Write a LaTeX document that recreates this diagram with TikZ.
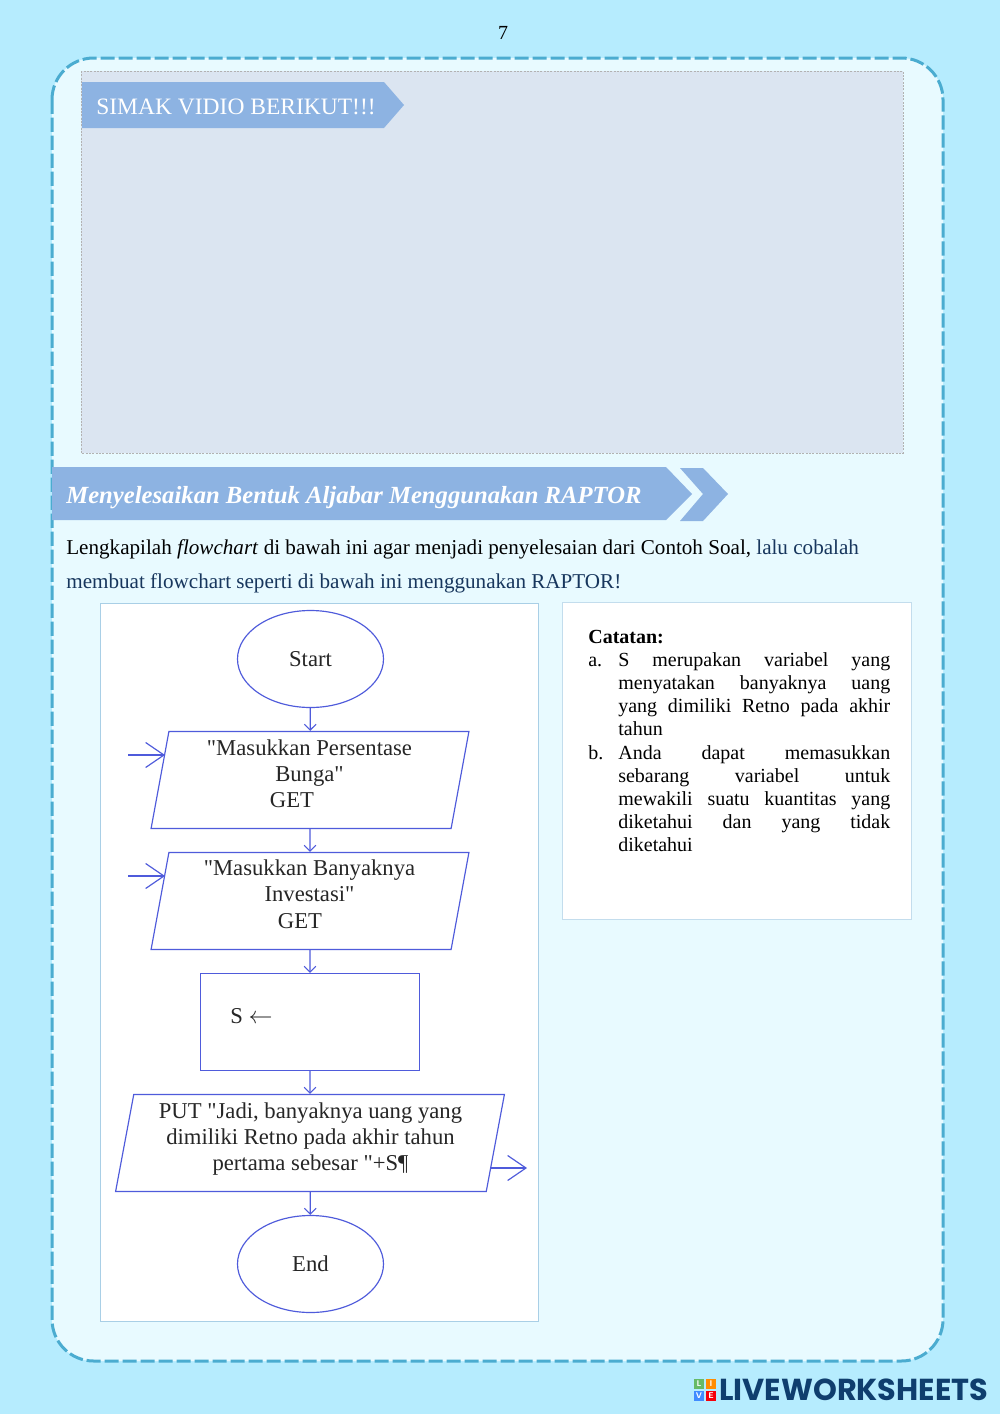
\documentclass[tikz,border=0pt]{standalone}
\usepackage{fontspec}
\setmainfont{Liberation Serif}
\newfontfamily\alurfont{Liberation Serif}
\newfontfamily\logofont{Poppins}
\usetikzlibrary{shapes.geometric, arrows.meta}
\definecolor{latar}{HTML}{B6ECFE}
\definecolor{kartu}{HTML}{E8FAFF}
\definecolor{putus}{HTML}{4BACD0}
\definecolor{vidio}{HTML}{DBE5F1}
\definecolor{pita}{HTML}{8DB3E2}
\definecolor{garis}{HTML}{4F5BDB}
\definecolor{bingkai}{HTML}{A9CFE6}
\definecolor{tinta}{HTML}{17365D}
\definecolor{logobiru}{HTML}{0F3E6E}
\begin{document}
\begin{tikzpicture}[x=0.6pt, y=-0.6pt]
\tikzset{alur/.style={draw=garis, line width=0.7pt, fill=white, inner sep=0pt, text=black!85}}
\tikzset{oval/.style={alur, ellipse, minimum width=87.6pt, minimum height=58.2pt, font=\alurfont\fontsize{13.6}{15}\selectfont}}
\tikzset{jajar/.style={alur, trapezium, trapezium stretches=true, trapezium left angle=85.1, trapezium right angle=94.9, minimum width=190.8pt, minimum height=58.2pt}}
\tikzset{teks/.style={inner sep=0pt, text=black!85, font=\alurfont\fontsize{13.6}{15.6}\selectfont, align=center}}
\tikzset{hubung/.style={draw=garis, line width=0.7pt, -{Straight Barb[length=3.5pt, width=7pt]}}}
\tikzset{masuk/.style={draw=garis, line width=0.7pt, -{Straight Barb[length=11pt, width=15pt]}}}
\tikzset{catat/.style={inner sep=0pt, anchor=north west, align=justify, font=\fontsize{12}{13.8}\selectfont}}
\tikzset{kotakL/.style={inner sep=0pt, minimum size=6.2pt, text=white, font=\fontsize{5}{5}\selectfont\bfseries\sffamily}}
\useasboundingbox (0, 0) rectangle (1000, 1414);
\fill[latar] (0, 0) rectangle (1000, 1414);
\draw[putus, fill=kartu, line width=1.8pt, dash pattern=on 8.5pt off 2.3pt, rounded corners=25pt] (52, 58) rectangle (943, 1361);
\draw[gray!60, fill=vidio, line width=0.4pt, dash pattern=on 1.2pt off 0.8pt] (81, 71) rectangle (903, 453);
\node[inner sep=0pt, font=\fontsize{12}{14}\selectfont] (halaman) at (503, 33) {7};
\fill[pita] (82, 82) -- (384, 82) -- (404, 105) -- (384, 128) -- (82, 128) -- cycle;
\node[inner sep=0pt, anchor=base west, text=white, font=\fontsize{14.1}{16}\selectfont] (simak) at (96, 114) {SIMAK VIDIO BERIKUT!!!};
\fill[pita] (52, 467) -- (666, 467) -- (692, 494) -- (666, 520) -- (52, 520) -- cycle;
\fill[pita] (680, 468) -- (703, 468) -- (728, 494) -- (703, 521) -- (680, 521) -- (703, 494) -- cycle;
\node[inner sep=0pt, anchor=base west, text=white, font=\fontsize{14.8}{16}\selectfont\bfseries\itshape] (judul) at (66, 503) {Menyelesaikan Bentuk Aljabar Menggunakan RAPTOR};
\node[inner sep=0pt, anchor=base west, font=\fontsize{12.67}{15}\selectfont] (baris1) at (66, 554) {Lengkapilah \textit{flowchart} di bawah ini agar menjadi penyelesaian dari Contoh Soal, \textcolor{tinta}{lalu cobalah}};
\node[inner sep=0pt, anchor=base west, text=tinta, font=\fontsize{12.67}{15}\selectfont] (baris2) at (66, 588) {membuat flowchart seperti di bawah ini menggunakan RAPTOR!};
\draw[bingkai, fill=white, line width=0.6pt] (100, 603) rectangle (538, 1321);
\draw[bingkai!70, fill=white, line width=0.5pt] (562, 602) rectangle (911, 919);
\node[oval] (V1) at (310.5, 659) {Start};
\node[jajar] (V2) at (310, 780) {\phantom{M}};
\node[jajar] (V3) at (310, 901) {\phantom{M}};
\node[alur, minimum width=131.2pt, minimum height=58.2pt] (V4) at (310, 1022) {};
\node[jajar, trapezium left angle=86, trapezium right angle=94, minimum width=233.4pt] (V5) at (310, 1143) {\phantom{M}};
\node[oval] (V6) at (310.5, 1264) {End};
\node[teks] (T2) at (309.5, 763) {"Masukkan Persentase\\Bunga"};
\node[teks] (G2) at (292, 800) {GET};
\node[teks] (T3) at (309.5, 881) {"Masukkan Banyaknya\\Investasi"};
\node[teks] (G3) at (300, 921) {GET};
\node[teks, anchor=west] (T4) at (230, 1016) {S $\leftarrow$};
\node[teks] (T5) at (310.5, 1139) {PUT "Jadi, banyaknya uang yang\\dimiliki Retno pada akhir tahun\\pertama sebesar "+S¶};
\coordinate (M2) at (128, 755);
\coordinate (M3) at (128, 876);
\coordinate (K5) at (491, 1168);
\coordinate (A2) at (165, 755);
\coordinate (A3) at (165, 876);
\coordinate (A5) at (527, 1168);
\draw[hubung] (V1) -- (V2);
\draw[hubung] (V2) -- (V3);
\draw[hubung] (V3) -- (V4);
\draw[hubung] (V4) -- (V5);
\draw[hubung] (V5) -- (V6);
\draw[masuk] (M2) -- (A2);
\draw[masuk] (M3) -- (A3);
\draw[masuk] (K5) -- (A5);
\node[catat, text width=100pt] (catatan) at (588, 627.3) {\strut\textbf{Catatan:}};
\node[catat, text width=15pt] (a) at (588, 650.5) {\strut a.};
\node[catat, text width=163.2pt] (ta) at (618, 650.5) {\strut S merupakan variabel yang\linebreak menyatakan banyaknya uang\linebreak yang dimiliki Retno pada akhir\linebreak tahun};
\node[catat, text width=15pt] (b) at (588, 743.5) {\strut b.};
\node[catat, text width=163.2pt] (tb) at (618, 743.5) {\strut Anda dapat memasukkan\linebreak sebarang variabel untuk\linebreak mewakili suatu kuantitas yang\linebreak diketahui dan yang tidak\linebreak diketahui};
\node[kotakL, fill=green!55!black!60] (L1) at (699, 1384) {L};
\node[kotakL, fill=orange!90!yellow] (L2) at (711, 1384) {I};
\node[kotakL, fill=blue!60!cyan!75] (L3) at (699, 1396) {V};
\node[kotakL, fill=red!85!purple] (L4) at (711, 1396) {E};
\node[inner sep=0pt, anchor=base west, text=logobiru, font=\logofont\bfseries\fontsize{18.2}{20}\selectfont] (logo) at (719, 1400) {LIVEWORKSHEETS};
\end{tikzpicture}
\end{document}
